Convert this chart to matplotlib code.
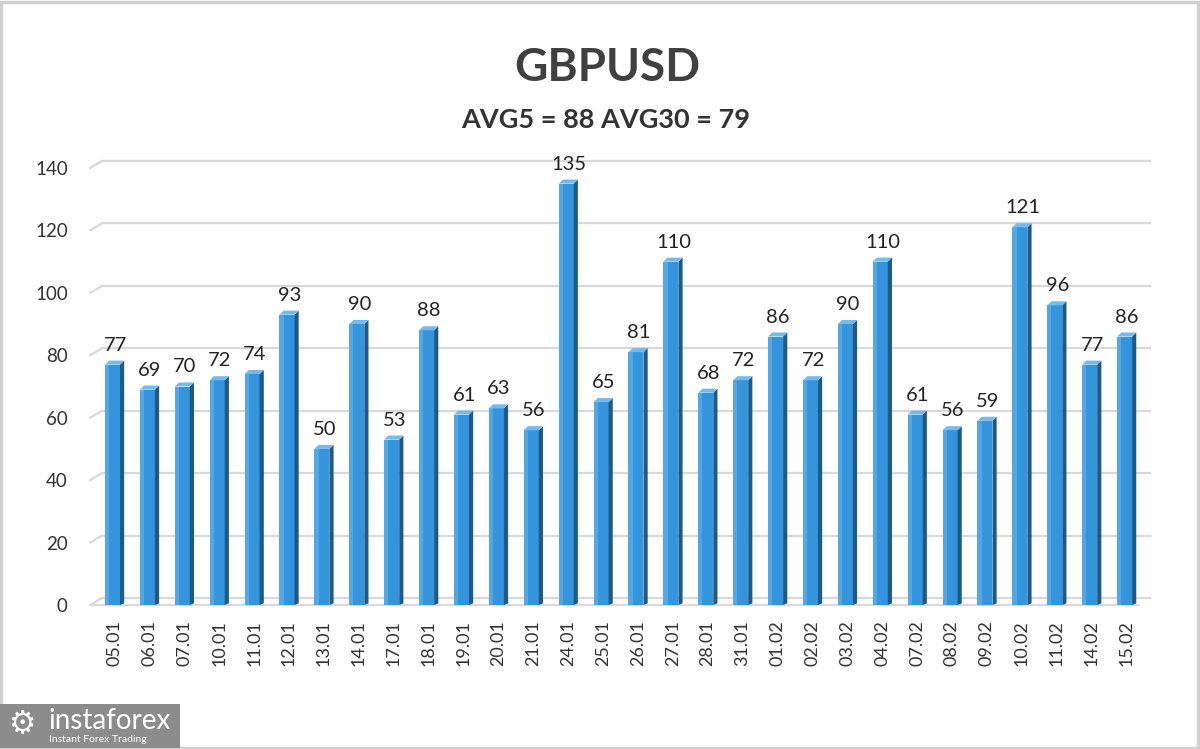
import matplotlib
matplotlib.use("Agg")
import matplotlib.pyplot as plt
from matplotlib.patches import Polygon, Rectangle
from matplotlib.transforms import ScaledTranslation

dates = ["05.01", "06.01", "07.01", "10.01", "11.01", "12.01", "13.01", "14.01",
         "17.01", "18.01", "19.01", "20.01", "21.01", "24.01", "25.01", "26.01",
         "27.01", "28.01", "31.01", "01.02", "02.02", "03.02", "04.02", "07.02",
         "08.02", "09.02", "10.02", "11.02", "14.02", "15.02"]
values = [77, 69, 70, 72, 74, 93, 50, 90, 53, 88, 61, 63, 56, 135, 65, 81,
          110, 68, 72, 86, 72, 90, 110, 61, 56, 59, 121, 96, 77, 86]
yticks = [0, 20, 40, 60, 80, 100, 120, 140]
title = "GBPUSD"
subtitle = "AVG5 = 88 AVG30 = 79"

plt.rcParams['font.family'] = ['Lato', 'DejaVu Sans']

W, H = 1200, 749
fig = plt.figure(figsize=(W / 100, H / 100), dpi=100)
fig.patch.set_facecolor('white')

ax_left, ax_right = 90, 1138
ax_top, ax_bot = 168, 605
ax = fig.add_axes([ax_left / W, (H - ax_bot) / H, (ax_right - ax_left) / W, (ax_bot - ax_top) / H])
ax.set_xlim(-0.70, 29.33)
ax.set_ylim(0, 140)
for s in ax.spines.values():
    s.set_visible(False)
ax.set_facecolor('none')

# 3D-like back-wall gridlines
back = ax.transData + ScaledTranslation(12 / 100, 7 / 100, fig.dpi_scale_trans)
xl = ax.get_xlim()
for v in yticks:
    ax.plot([xl[0], xl[1]], [v, v], color='#d9d9d9', lw=1.6, transform=back, clip_on=False, zorder=0)
    ax.annotate('', xy=(xl[0], v), xycoords=back, xytext=(xl[0], v), textcoords='data',
                arrowprops=dict(arrowstyle='-', color='#d9d9d9', lw=1.6, shrinkA=0, shrinkB=0))
ax.plot([xl[0], xl[1]], [0, 0], color='#d9d9d9', lw=1.6, clip_on=False, zorder=0)

face_l, face_r, side_r = -0.27, 0.16, 0.28
depth = 1.3
face_col = '#3494dc'
side_col = '#1d5a88'
top_col = '#74baec'

xs = list(range(len(values)))
ax.bar([x + (face_l + face_r) / 2 for x in xs], values, width=face_r - face_l,
       color=face_col, edgecolor='none', zorder=3)
ax.bar([x + face_l + 0.06 for x in xs], values, width=0.12, color='#52a8e6',
       edgecolor='none', zorder=3)
for x, v in zip(xs, values):
    side = Polygon([(x + face_r, 0), (x + side_r, depth * 0.4), (x + side_r, v + depth), (x + face_r, v)],
                   closed=True, facecolor=side_col, edgecolor='none', zorder=3)
    ax.add_patch(side)
    top = Polygon([(x + face_l, v), (x + face_r, v), (x + side_r, v + depth), (x + face_l + 0.12, v + depth)],
                  closed=True, facecolor=top_col, edgecolor='none', zorder=3)
    ax.add_patch(top)
    ax.annotate(str(v), xy=(x + 0.02, v), xytext=(0, 11), textcoords='offset pixels',
                ha='center', va='bottom', fontsize=14.5, color='#222222', zorder=4)

ax.set_yticks(yticks)
ax.set_yticklabels([str(t) for t in yticks], fontsize=13.5, color='#333333')
ax.set_xticks(xs)
ax.set_xticklabels(dates, rotation=90, fontsize=13, color='#333333')
ax.tick_params(axis='y', length=0, pad=16)
ax.tick_params(axis='x', length=0, pad=11)

fig.text(607 / W, 1 - 68 / H, title, ha='center', va='center', fontsize=33,
         fontweight='bold', color='#404040')
fig.text(606 / W, 1 - 120 / H, subtitle, ha='center', va='center', fontsize=19.5,
         fontweight='bold', color='#333333')

# outer frame
fig.add_artist(Rectangle((1 / W, 1 / H), (W - 3) / W, (H - 3) / H, transform=fig.transFigure,
                         fill=False, edgecolor='#d0d0d0', lw=2.5))

# logo box
fig.add_artist(Rectangle((0, 1 - 748 / H), 180 / W, 44 / H, transform=fig.transFigure,
                         facecolor='#8c8c8c', edgecolor='none'))
fig.text(8 / W, 1 - 725 / H, '\u2699', ha='left', va='center', fontsize=22, color='white',
         family=['DejaVu Sans'])
fig.text(48 / W, 1 - 721 / H, 'instaforex', ha='left', va='center', fontsize=20, color='white')
fig.text(49 / W, 1 - 740 / H, 'Instant Forex Trading', ha='left', va='center', fontsize=7.5, color='white')

fig.savefig('out.png', dpi=100)
